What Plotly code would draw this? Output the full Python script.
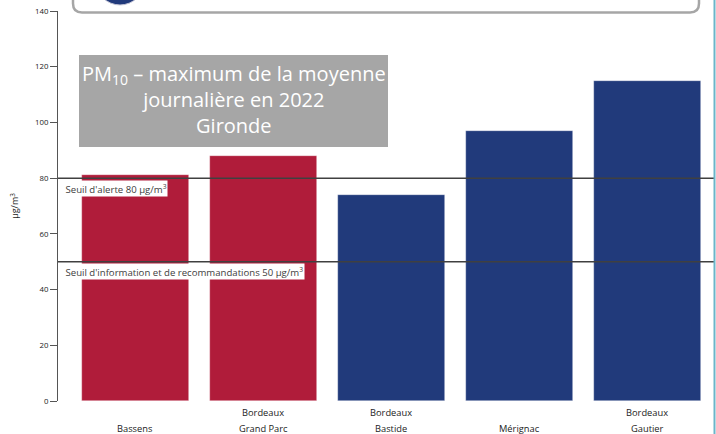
import plotly.graph_objects as go

stations = ["Bassens", "Bordeaux<br>Grand Parc", "Bordeaux<br>Bastide", "Mérignac", "Bordeaux<br>Gautier"]
values = [81, 88, 74, 97, 115]
bar_colors = ["#b01c3a", "#b01c3a", "#213a7b", "#213a7b", "#213a7b"]
thresholds = [80, 50]
threshold_labels = ["Seuil d'alerte 80 µg/m<sup>3</sup>",
                    "Seuil d'information et de recommandations 50 µg/m<sup>3</sup>"]
y_ticks = [0, 20, 40, 60, 80, 100, 120, 140]

W, H = 716, 434
L, R, T, B = 58, 2, 11, 33
pw, ph = W - L - R, H - T - B

def px(x):
    return (x - L) / pw

def py(y):
    return (H - B - y) / ph

fig = go.Figure()
fig.add_trace(go.Bar(
    x=list(range(len(stations))), y=values,
    marker=dict(color=bar_colors, line=dict(color="rgba(255,255,255,0.6)", width=0.6)),
    width=0.836, showlegend=False, hoverinfo="skip"))

shapes = []
for t in thresholds:
    shapes.append(dict(type="line", xref="paper", yref="y", x0=0, x1=1, y0=t, y1=t,
                       line=dict(color="#404040", width=1.5), layer="above"))

# top rounded box (partially visible)
x0, x1, yb, ytop = px(73), px(699), py(12.5), py(-20)
rx = 9 / pw
ry = 9 / ph
path = (f"M {x0},{ytop} L {x0},{yb + ry} Q {x0},{yb} {x0 + rx},{yb} "
        f"L {x1 - rx},{yb} Q {x1},{yb} {x1},{yb + ry} L {x1},{ytop}")
shapes.append(dict(type="path", xref="paper", yref="paper", path=path,
                   line=dict(color="#a6a6a6", width=2.5)))
# blue circle partially visible
shapes.append(dict(type="circle", xref="paper", yref="paper",
                   x0=px(96), x1=px(144), y0=py(5), y1=py(-43),
                   fillcolor="#213a7b", line=dict(color="#c8c8d8", width=1)))
# right teal border line
shapes.append(dict(type="line", xref="paper", yref="paper", x0=px(714.5), x1=px(714.5),
                   y0=py(0), y1=py(434), line=dict(color="#6bb5c9", width=2)))
# title grey box
shapes.append(dict(type="rect", xref="paper", yref="paper",
                   x0=px(79), x1=px(388), y0=py(147), y1=py(55),
                   fillcolor="#a6a6a6", line=dict(width=0), layer="above"))

annotations = [
    dict(xref="paper", yref="paper", x=px(233.5), y=py(100), xanchor="center", yanchor="middle",
         text="PM<sub>10</sub> – maximum de la moyenne<br>journalière en 2022<br>Gironde",
         showarrow=False, font=dict(family="Open Sans", size=20, color="white"),
         align="center"),
]
for t, lab in zip(thresholds, threshold_labels):
    annotations.append(dict(xref="paper", yref="y", x=px(64), y=t, xanchor="left", yanchor="top",
                            yshift=-1.5, text=lab, showarrow=False, bgcolor="white",
                            borderpad=0.5,
                            font=dict(family="Open Sans", size=9.6, color="#404040")))

# category labels, two-line, bottom aligned
for i, s in enumerate(stations):
    lines = s.split("<br>")
    for k, line in enumerate(reversed(lines)):
        annotations.append(dict(xref="x", yref="paper", x=i, y=py(428 - 15 * k),
                                xanchor="center", yanchor="middle", text=line, showarrow=False,
                                font=dict(family="Open Sans", size=9.3, color="#222222")))

fig.update_layout(
    width=W, height=H,
    margin=dict(l=L, r=R, t=T, b=B, autoexpand=False),
    paper_bgcolor="white", plot_bgcolor="white",
    shapes=shapes, annotations=annotations,
    font=dict(family="Open Sans", color="#222222"),
    bargap=0,
)
fig.update_xaxes(range=[-0.605, 4.52], tickvals=list(range(len(stations))),
                 showticklabels=False,
                 showline=False, ticks="", showgrid=False, zeroline=False)
fig.update_yaxes(range=[0, 140], tickvals=y_ticks, showgrid=False, zeroline=False,
                 showline=True, linecolor="#555555", linewidth=1,
                 ticks="outside", ticklen=7, tickcolor="#555555",
                 tickfont=dict(size=7.8, color="#222222"),
                 title=dict(text="µg/m<sup>3</sup>", font=dict(size=9, color="#222222"), standoff=14))

fig.write_html("out.html", config={"displayModeBar": False},
               post_script="document.body.style.margin='0';")
